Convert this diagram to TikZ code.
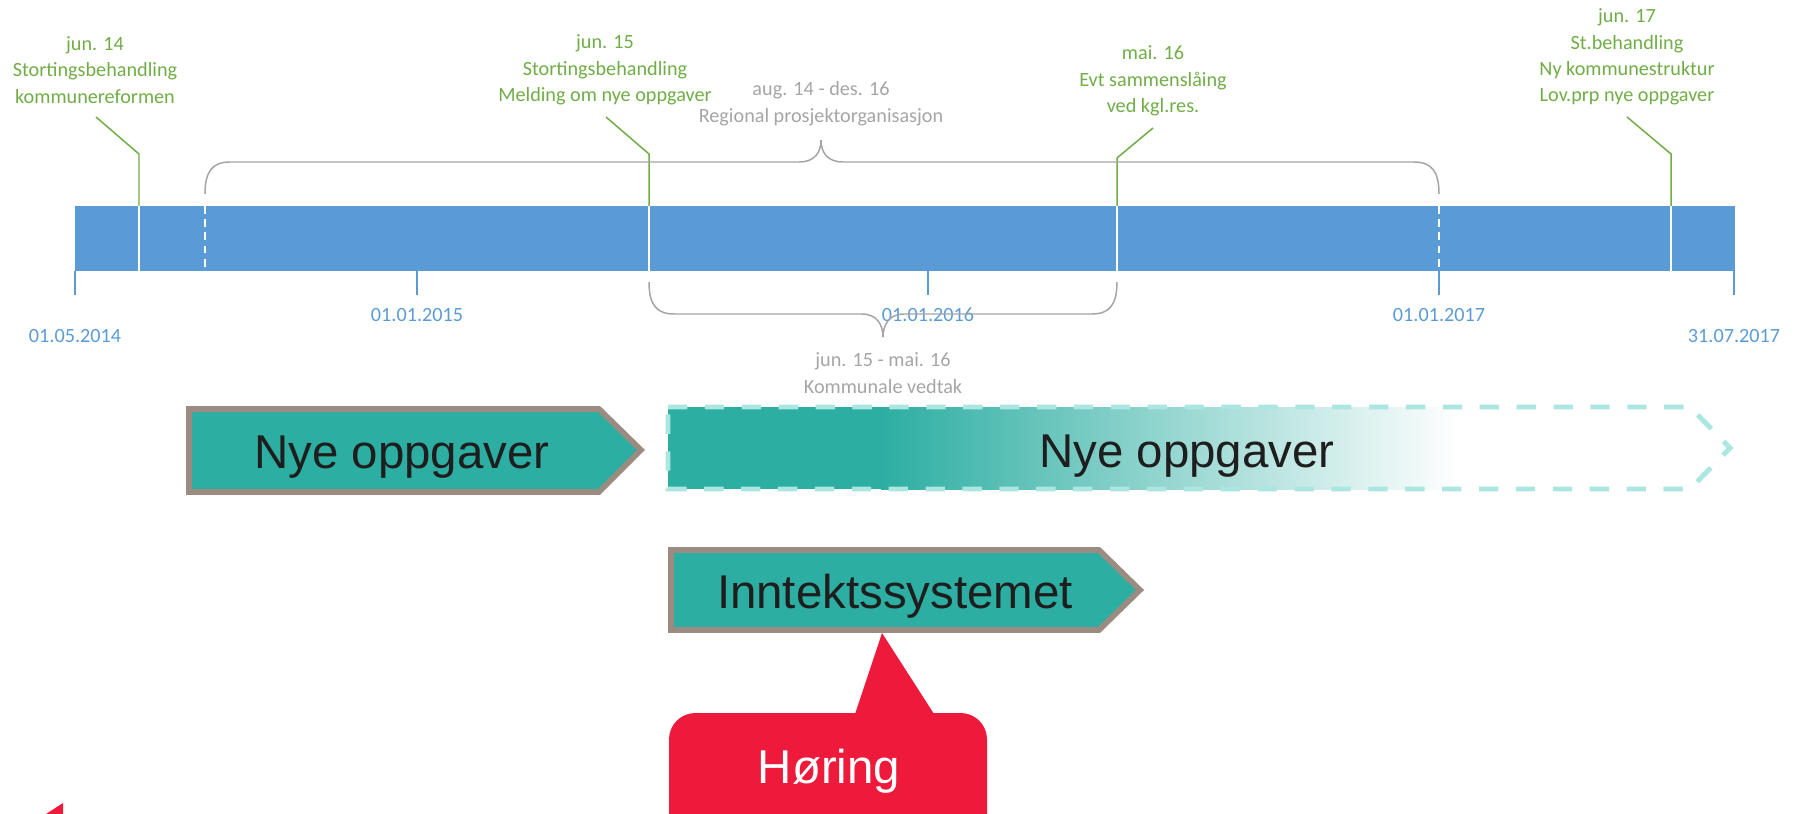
\documentclass[tikz,border=0pt]{standalone}
\usepackage{fontspec}
\setmainfont{Carlito}
\newfontfamily\boxfont{Liberation Sans}
\usepackage{xcolor}
\usetikzlibrary{positioning, calc}

\definecolor{barblue}{HTML}{5B9BD5}
\definecolor{markgreen}{HTML}{70AD47}
\definecolor{spangray}{HTML}{A5A5A5}
\definecolor{boxteal}{HTML}{2DAEA2}
\definecolor{boxedge}{HTML}{9C8B80}
\definecolor{dashteal}{HTML}{ABE6E0}
\definecolor{horingred}{HTML}{EE1A3C}
\definecolor{boxtext}{HTML}{1E1E1E}

\tikzset{
  milelabel/.style={text=markgreen, align=center, inner sep=0pt, font=\fontsize{11.5}{15}\selectfont},
  spanlabel/.style={text=spangray, align=center, inner sep=0pt, font=\fontsize{11.5}{15.5}\selectfont},
  datelabel/.style={text=barblue, inner sep=0pt, font=\fontsize{11.5}{14}\selectfont},
  bigtext/.style={text=boxtext, anchor=base, inner sep=0pt, font=\boxfont\fontsize{27}{30}\selectfont},
  leader/.style={markgreen, line width=0.85pt},
  brace/.style={spangray, line width=0.85pt},
  phasebox/.style={boxedge, fill=boxteal, line width=3.2pt},
}

\begin{document}
\begin{tikzpicture}[x=0.02cm, y=-0.02cm]
    \useasboundingbox (0,0) rectangle (1801,814);
    \clip (0,0) rectangle (1801,814);

    % tidslinje
    \fill[barblue] (75,206) rectangle (1735,271);

    % datoer under linjen
    \foreach \x/\y/\d/\n in {75/336/01.05.2014/d1, 417/315/01.01.2015/d2, 928/315/01.01.2016/d3, 1439/315/01.01.2017/d4, 1734/336/31.07.2017/d5} {
        \draw[barblue, line width=0.8pt] (\x,271) -- (\x,295);
        \node[datelabel] (\n) at (\x,\y) {\d};
    }

    % periodegrenser
    \draw[white, line width=1.2pt, dash pattern=on 4.5pt off 3pt] (205,206) -- (205,271);
    \draw[white, line width=1.2pt, dash pattern=on 4.5pt off 3pt] (1439,206) -- (1439,271);

    % milepæler
    \node[milelabel] (m1) at (95,70) {jun. 14\\Stortingsbehandling\\kommunereformen};
    \node[milelabel] (m2) at (605,70) {jun. 15\\Stortingsbehandling\\Melding om nye oppgaver};
    \node[milelabel] (m3) at (1153,81) {mai. 16\\Evt sammenslåing\\ved kgl.res.};
    \node[milelabel] (m4) at (1627,57) {jun. 17\\St.behandling\\Ny kommunestruktur\\Lov.prp nye oppgaver};

    \foreach \n/\x/\by/\tx/\ty in {m1/139/154/96/117, m2/649/154/606/117, m3/1117/158/1153/128, m4/1671/154/1627/117} {
        \coordinate (\n top) at (\tx,\ty);
        \coordinate (\n bend) at (\x,\by);
        \coordinate (\n foot) at (\x,206);
        \draw[leader] (\n top) -- (\n bend) -- (\n foot);
        \draw[white, line width=1.2pt] (\n foot) -- (\x,271);
    }

    % klammer
    \draw[brace] (205,194) .. controls (205,172) and (212,162) .. (230,162) -- (799,162)
        .. controls (815,162) and (821,152) .. (821,140)
        .. controls (821,152) and (827,162) .. (843,162) -- (1414,162)
        .. controls (1432,162) and (1439,172) .. (1439,194);
    \node[spanlabel] (s1) at (821,104) {aug. 14 - des. 16\\Regional prosjektorganisasjon};

    \draw[brace] (649,282) .. controls (649,304) and (656,314) .. (674,314) -- (862,314)
        .. controls (877,314) and (883,325) .. (883,337)
        .. controls (883,325) and (889,314) .. (904,314) -- (1092,314)
        .. controls (1110,314) and (1117,304) .. (1117,282);
    \node[spanlabel] (s2) at (883,373) {jun. 15 - mai. 16\\Kommunale vedtak};

    % nye oppgaver
    \draw[phasebox] (189,409) -- (599,409) -- (641,450) -- (599,492) -- (189,492) -- cycle;
    \node[bigtext] (nye1) at (402,468) {Nye oppgaver};

    \fill[boxteal] (668,407) rectangle (882,489);
    \shade[left color=boxteal, right color=white] (881,407) rectangle (1460,489);
    \draw[dashteal, line width=2.8pt, dash pattern=on 11pt off 10pt] (668,407) -- (1690,407) -- (1730,448) -- (1690,489) -- (668,489) -- cycle;
    \node[bigtext] (nye2) at (1187,467) {Nye oppgaver};

    % inntektssystemet
    \draw[phasebox] (671,550) -- (1099,550) -- (1140,590) -- (1099,630) -- (671,630) -- cycle;
    \node[bigtext] (inntekt) at (895,608) {Inntektssystemet};

    % høring
    \fill[horingred, rounded corners=15] (669,713) rectangle (987,850);
    \fill[horingred] (855,714) -- (882,633) -- (934,714) -- cycle;
    \node[bigtext, text=white] (horing) at (829,783) {Høring};

    \fill[horingred] (46,814) -- (63,803) -- (63,814) -- cycle;
\end{tikzpicture}
\end{document}
